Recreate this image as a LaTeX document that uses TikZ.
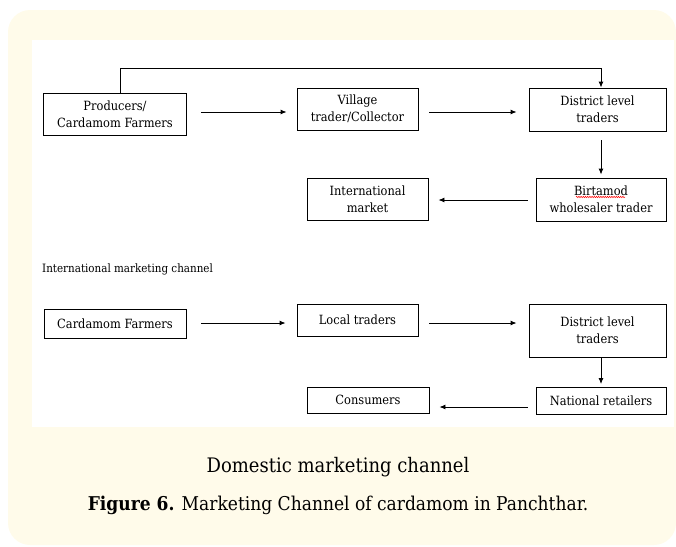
\documentclass[tikz,border=0pt]{standalone}
\usepackage{fontspec}
\setmainfont{DejaVu Serif Condensed}
\usetikzlibrary{arrows.meta,decorations.pathmorphing}
\definecolor{panel}{RGB}{255,251,234}
\tikzset{
  box/.style={draw=black, line width=0.9pt, fill=white, align=center, inner sep=0pt,
    font=\fontsize{12.7}{17}\selectfont},
  arr/.style={draw=black, line width=0.9pt, -{Latex[length=6pt,width=5pt]}},
  lbl/.style={inner sep=0pt, font=\fontsize{11.5}{13}\selectfont, anchor=base west},
  captext/.style={inner sep=0pt, font=\fontsize{19}{22}\selectfont}
}
\begin{document}
\begin{tikzpicture}[x=1pt,y=-1pt]
\useasboundingbox (0,0) rectangle (676,546);
\fill[panel, rounded corners=22pt] (8,10) rectangle (676,545);
\fill[white] (32,40) rectangle (674,427);

% first chart
\node[box, minimum width=143, minimum height=42] (prod) at (115,114) {Producers/\\Cardamom Farmers};
\node[box, minimum width=121, minimum height=42] (vill) at (357.5,109) {Village\\trader/Collector};
\node[box, minimum width=137, minimum height=43] (dist) at (597.5,109.5) {District level\\traders};
\node[box, minimum width=130, minimum height=43] (birt) at (601,199.5) {Birtamod\\wholesaler trader};
\node[box, minimum width=121, minimum height=42] (intm) at (367.5,199) {International\\market};

\draw[arr, shorten <=14pt, shorten >=10pt] (prod.east |- 0,112) -- (vill.west |- 0,112);
\draw[arr, shorten <=11pt, shorten >=12pt] (vill.east |- 0,112) -- (dist.west |- 0,112);
\draw[arr] (prod.north -| 120,0) -- (120,68) -| (dist.north -| 601,0);
\draw[arr, shorten <=9pt, shorten >=3pt] (dist.south -| 601,0) -- (birt.north -| 601,0);
\draw[arr, shorten <=8pt, shorten >=10pt] (birt.west |- 0,200) -- (intm.east |- 0,200);
\draw[red, line width=0.5pt, decorate, decoration={snake, amplitude=0.7pt, segment length=2.2pt}]
  ([xshift=-25pt,yshift=2.5pt]birt.center) -- ([xshift=24pt,yshift=2.5pt]birt.center);

\node[lbl] (intlabel) at (42,272) {International marketing channel};

% second chart
\node[box, minimum width=142, minimum height=29] (farm) at (115,324) {Cardamom Farmers};
\node[box, minimum width=121, minimum height=32] (loc) at (357.5,320) {Local traders};
\node[box, minimum width=137, minimum height=53] (dist2) at (597.5,330.5) {District level\\traders};
\node[box, minimum width=130, minimum height=27] (nat) at (601,401) {National retailers};
\node[box, minimum width=122, minimum height=26] (cons) at (368,400) {Consumers};

\draw[arr, shorten <=15pt, shorten >=11pt] (farm.east |- 0,323) -- (loc.west |- 0,323);
\draw[arr, shorten <=11pt, shorten >=12pt] (loc.east |- 0,323) -- (dist2.west |- 0,323);
\draw[arr, shorten <=1pt, shorten >=3pt] (dist2.south -| 601,0) -- (nat.north -| 601,0);
\draw[arr, shorten <=8pt, shorten >=10pt] (nat.west |- 0,407) -- (cons.east |- 0,407);

% captions
\node[captext, font=\fontsize{20}{22}\selectfont] (dom) at (338,467) {Domestic marketing channel};
\node[captext] (fig) at (338,505) {\textbf{Figure 6.} Marketing Channel of cardamom in Panchthar.};
\end{tikzpicture}
\end{document}
